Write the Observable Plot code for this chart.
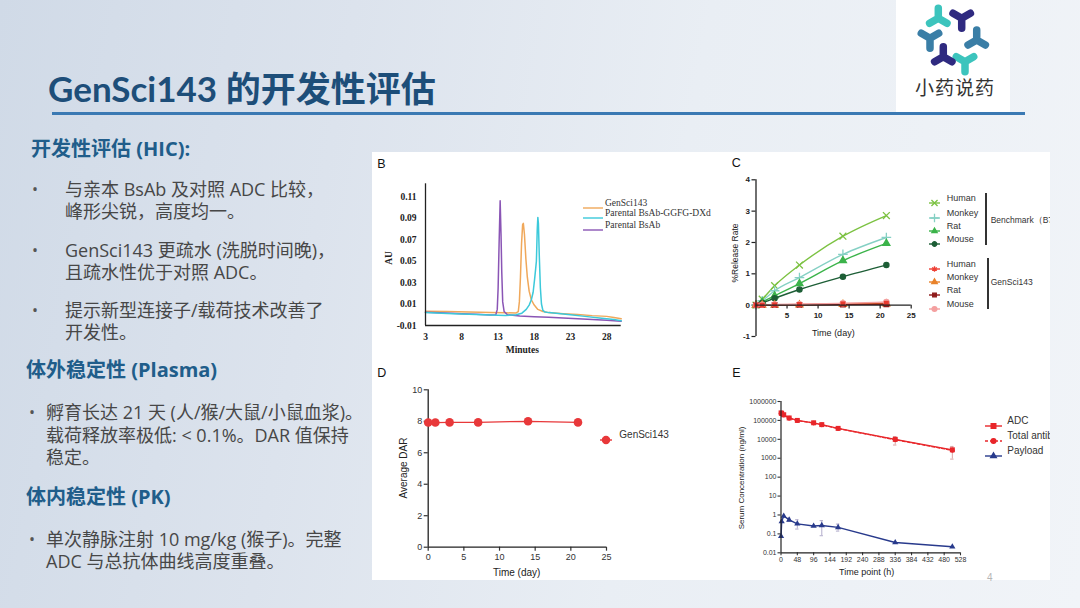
<!DOCTYPE html>
<html><head><meta charset="utf-8">
<script src="https://cdn.jsdelivr.net/npm/d3@7"></script>
<script src="https://cdn.jsdelivr.net/npm/@observablehq/plot@0.6"></script>
<style>
body{margin:0;}
#slide{position:relative;width:1080px;height:608px;overflow:hidden;
 background:linear-gradient(100deg,#d0dae7 0%,#dce3ed 30%,#e9eef4 60%,#f1f4f8 100%);
 font-family:"Open Sans","Noto Sans CJK SC",sans-serif;}
.abs{position:absolute;white-space:nowrap;}
.title{left:48px;top:68px;font-family:"Lato","Noto Sans CJK SC",sans-serif;font-weight:700;font-size:35px;line-height:40px;color:#1d4e79;}
.h{font-weight:700;font-size:20px;line-height:24px;color:#205d8a;font-family:"Open Sans","Noto Sans CJK SC",sans-serif;}
.t{font-size:18px;line-height:22px;color:#474747;}
.dot{font-size:16px;line-height:22px;color:#555;}
#panel{position:absolute;left:372px;top:152px;width:678px;height:428px;background:#fff;overflow:hidden;}
#panel svg.plot{position:absolute;}
.lab{position:absolute;font-family:"Liberation Sans",Arial,sans-serif;font-size:12.5px;line-height:13px;color:#111;}
.ax{position:absolute;white-space:nowrap;transform:translate(-50%,-50%);color:#222;}
.leg{position:absolute;white-space:nowrap;color:#333;}
</style></head>
<body><div id="slide">
 <div class="abs title">GenSci143 的开发性评估</div>
 <div class="abs" style="left:896px;top:0;width:114px;height:113px;background:#fff;">
  <svg width="114" height="80" style="position:absolute;left:0;top:0">
   <g fill="none" stroke-width="7.5" stroke-linecap="round">
    <path d="M42.3,18.3L42.3,8.3M42.3,18.3L33.6,23.3M42.3,18.3L51,23.3" stroke="#3cc4bd"/>
    <path d="M65.7,18.3L65.7,28.3M65.7,18.3L57,13.3M65.7,18.3L74.4,13.3" stroke="#2f2a80"/>
    <path d="M80.7,40L80.7,30M80.7,40L72,45M80.7,40L89.4,45" stroke="#3a7ea6"/>
    <path d="M69,61.7L69,71.7M69,61.7L60.3,56.7M69,61.7L77.7,56.7" stroke="#3cc4bd"/>
    <path d="M47.3,56.7L47.3,46.7M47.3,56.7L38.6,61.7M47.3,56.7L56,61.7" stroke="#2f2a80"/>
    <path d="M34,38.3L34,48.3M34,38.3L25.3,33.3M34,38.3L42.7,33.3" stroke="#3a7ea6"/>
   </g>
  </svg>
  <div class="abs" style="left:19px;top:75px;font-family:'Noto Sans CJK SC';font-size:19px;line-height:24px;color:#333;letter-spacing:1px;">小药说药</div>
 </div>
 <div class="abs" style="left:52px;top:112px;width:973px;height:3px;background:#3a79b3;"></div>

 <div class="abs h" style="left:31px;top:137px;">开发性评估 (HIC):</div>
 <div class="abs dot" style="left:32px;top:178px;">•</div>
 <div class="abs t" style="left:65px;top:178px;">与亲本 BsAb 及对照 ADC 比较，</div>
 <div class="abs t" style="left:65px;top:200px;">峰形尖锐，高度均一。</div>
 <div class="abs dot" style="left:32px;top:239px;">•</div>
 <div class="abs t" style="left:65px;top:239px;">GenSci143 更疏水 (洗脱时间晚)，</div>
 <div class="abs t" style="left:65px;top:261px;">且疏水性优于对照 ADC。</div>
 <div class="abs dot" style="left:32px;top:299px;">•</div>
 <div class="abs t" style="left:65px;top:299px;">提示新型连接子/载荷技术改善了</div>
 <div class="abs t" style="left:65px;top:321px;">开发性。</div>

 <div class="abs h" style="left:26px;top:358px;">体外稳定性 (Plasma)</div>
 <div class="abs dot" style="left:29px;top:401px;">•</div>
 <div class="abs t" style="left:46px;top:401px;">孵育长达 21 天 (人/猴/大鼠/小鼠血浆)。</div>
 <div class="abs t" style="left:46px;top:424px;">载荷释放率极低: &lt; 0.1%。DAR 值保持</div>
 <div class="abs t" style="left:46px;top:446px;">稳定。</div>

 <div class="abs h" style="left:26px;top:485px;">体内稳定性 (PK)</div>
 <div class="abs dot" style="left:29px;top:528px;">•</div>
 <div class="abs t" style="left:46px;top:528px;">单次静脉注射 10 mg/kg (猴子)。完整</div>
 <div class="abs t" style="left:46px;top:550px;">ADC 与总抗体曲线高度重叠。</div>

 <div id="panel"></div>
 <div class="abs" style="left:987px;top:572px;font-size:10px;color:#b5b5b5;font-family:'Liberation Sans';">4</div>
</div>
<script>
// ---------- Panel B: HIC chromatograms ----------
const hicTicksX = [3, 8, 13, 18, 23, 28];
const hicTicksY = [-0.01, 0.01, 0.03, 0.05, 0.07, 0.09, 0.11];
const hicGenSci143 = [[3,0.0033],[6,0.003],[9,0.0026],[12,0.0021],[14,0.0018],[15.5,0.0017],[15.8,0.003],[15.95,0.012],[16.1,0.035],[16.25,0.066],[16.4,0.084],[16.5,0.0852],[16.65,0.075],[16.85,0.052],[17.05,0.035],[17.3,0.022],[17.6,0.014],[18,0.009],[18.5,0.005],[19.2,0.003],[20,0.002],[22,0.001],[24,0.0002],[26,-0.0008],[28,-0.0015],[29,-0.0025],[30,-0.0038]];
const hicParentalDXd = [[3,0.0022],[6,0.0012],[9,0.0004],[12,-0.0003],[14,-0.0006],[15.5,0.0],[16.3,0.0015],[16.9,0.005],[17.3,0.009],[17.6,0.014],[17.85,0.021],[18.05,0.033],[18.2,0.043],[18.3,0.05],[18.42,0.08],[18.5,0.0907],[18.58,0.085],[18.7,0.055],[18.85,0.025],[19.0,0.01],[19.2,0.004],[19.5,0.0025],[20,0.002],[21,0.0014],[23,0.0],[25,-0.0015],[27,-0.003],[29,-0.0045],[30,-0.0056]];
const hicParentalBsAb = [[3,0.0024],[5,0.0018],[8,0.001],[10,0.0004],[12,-0.0002],[12.7,0.0],[12.9,0.005],[13.02,0.025],[13.15,0.065],[13.3,0.1063],[13.42,0.075],[13.52,0.04],[13.65,0.012],[13.85,0.003],[14.3,0.0],[16,-0.0012],[18,-0.0018],[20,-0.0024],[22,-0.003],[24,-0.0038],[26,-0.0045],[28,-0.0052],[30,-0.006]];
const hicNames = ["GenSci143", "Parental BsAb-GGFG-DXd", "Parental BsAb"];
const hicColors = ["#f0a85a", "#3cc9da", "#8a55b5"];

// ---------- Panel C: payload release ----------
const releaseDays = [0, 1, 3, 7, 14, 21];
const releaseTicksX = [5, 10, 15, 20, 25];
const releaseTicksY = [-1, 0, 1, 2, 3, 4];
const benchHuman  = [0, 0.19, 0.62, 1.28, 2.20, 2.86];
const benchMonkey = [0, 0.14, 0.46, 0.88, 1.62, 2.16];
const benchRat    = [0, 0.10, 0.30, 0.69, 1.42, 1.97];
const benchMouse  = [0, 0.07, 0.22, 0.50, 0.91, 1.28];
const gsHuman  = [0, 0.00, 0.01, 0.02, 0.04, 0.06];
const gsMonkey = [0, 0.00, 0.005, 0.01, 0.03, 0.04];
const gsRat    = [0, 0.00, 0.005, 0.01, 0.02, 0.03];
const gsMouse  = [0, 0.01, 0.02, 0.03, 0.06, 0.10];

// ---------- Panel D: DAR ----------
const darDays = [0, 1, 3, 7, 14, 21];
const darValues = [7.92, 7.92, 7.93, 7.93, 8.0, 7.93];
const darTicksX = [0, 5, 10, 15, 20, 25];
const darTicksY = [0, 2, 4, 6, 8, 10];

// ---------- Panel E: PK ----------
const pkHours = [0.25, 2, 8, 24, 48, 96, 120, 168, 336, 504];
const adcConc = [250000, 232000, 200000, 135000, 100000, 75000, 60000, 38000, 10000, 2800];
const totalAbConc = [240000, 222000, 190000, 130000, 98000, 72000, 58000, 37000, 9500, 2600];
const payloadConc = [0.075, 0.45, 0.88, 0.55, 0.34, 0.26, 0.28, 0.22, 0.035, 0.021];
const adcErrHours = [336, 504];
const adcErrLo = [5000, 900];
const adcErrHi = [14000, 4200];
const payloadErrHours = [24, 48, 120, 168];
const payloadErrLo = [0.45, 0.18, 0.08, 0.14];
const payloadErrHi = [0.68, 0.56, 0.50, 0.33];
const pkTicksX = [0, 48, 96, 144, 192, 240, 288, 336, 384, 432, 480, 528];
const pkTicksY = [0.01, 0.1, 1, 10, 100, 1000, 10000, 100000, 1000000];

const panel = document.getElementById("panel");
function put(el, left, top) { el.classList.add("plot"); el.style.left = left + "px"; el.style.top = top + "px"; panel.appendChild(el); }
function html(cls, text, left, top, style) {
  const d = document.createElement("div"); d.className = cls; d.textContent = text;
  d.style.left = left + "px"; d.style.top = top + "px"; if (style) d.style.cssText += style;
  panel.appendChild(d); return d;
}
const sans = '"Liberation Sans",Arial,sans-serif';
const serif = '"Liberation Serif","Times New Roman",serif';
const symMap = {times: d3.symbolTimes, plus: d3.symbolPlus, triangle: d3.symbolTriangle, circle: d3.symbolCircle, square: d3.symbolSquare, asterisk: d3.symbolAsterisk, star: d3.symbolStar};
function swatch(left, cy, w, color, sym, size, filled, dash) {
  const s = document.createElement("div");
  s.style.cssText = `position:absolute;left:${left}px;top:${cy-6}px;width:${w}px;height:12px;`;
  let p = "";
  if (sym) {
    const d = d3.symbol(symMap[sym], size)();
    p = `<path transform="translate(${w/2},6)" d="${d}" fill="${filled ? color : "none"}" stroke="${color}" stroke-width="1.3"/>`;
  }
  s.innerHTML = `<svg width="${w}" height="12"><line x1="0" x2="${w}" y1="6" y2="6" stroke="${color}" stroke-width="1.4" ${dash ? `stroke-dasharray="${dash}"` : ""}/>${p}</svg>`;
  panel.appendChild(s);
}

// ---- B ----
const hicSeries = [hicGenSci143, hicParentalBsAb, hicParentalDXd];
const hicSeriesColor = [hicColors[0], hicColors[2], hicColors[1]];
put(Plot.plot({
  width: 348, height: 208, marginLeft: 53, marginRight: 99.3, marginTop: 31.3, marginBottom: 35,
  x: {domain: [3, 30], axis: null}, y: {domain: [-0.01, 0.122], axis: null},
  style: {background: "transparent", fontFamily: serif, fontSize: "9.5px", fontWeight: "bold", color: "#222", overflow: "visible"},
  marks: [
    Plot.axisY({ticks: hicTicksY, tickSize: 0, tickPadding: 9, tickFormat: d => d.toFixed(2), label: null}),
    Plot.axisX({ticks: hicTicksX, tickSize: 0, tickPadding: 8, tickFormat: d => String(d), label: null}),
    ...hicSeries.map((s, i) => Plot.line(s, {x: d => d[0], y: d => d[1], stroke: hicSeriesColor[i], strokeWidth: 1.5})),
    Plot.ruleX([3], {stroke: "#222", strokeWidth: 1.3}),
    Plot.ruleY([-0.01], {stroke: "#222", strokeWidth: 1.3})
  ]
}), 0, 0);
html("lab", "B", 5.3, 6);
html("ax", "AU", 16.5, 106, `font-family:${serif};font-weight:bold;font-size:9.5px;transform:translate(-50%,-50%) rotate(-90deg);`);
html("ax", "Minutes", 150.3, 198, `font-family:${serif};font-weight:bold;font-size:9.5px;`);
const hicLegY = [50.7, 61.3, 73];
hicNames.forEach((n, i) => {
  swatch(211.3, hicLegY[i], 20, hicColors[i], null, 0, false, null);
  html("leg", n, 233, hicLegY[i] - 7, `font-family:${serif};font-size:9.5px;line-height:14px;`);
});

// ---- C ----
const releaseSeries = [
  {name: "Human", v: benchHuman, color: "#7cc242", sym: "times", fill: false, size: 26},
  {name: "Monkey", v: benchMonkey, color: "#85d0c4", sym: "plus", fill: false, size: 26},
  {name: "Rat", v: benchRat, color: "#3bb34a", sym: "triangle", fill: true, size: 12},
  {name: "Mouse", v: benchMouse, color: "#1d5e36", sym: "circle", fill: true, size: 16},
  {name: "Human", v: gsHuman, color: "#ee4035", sym: "asterisk", fill: false, size: 22},
  {name: "Monkey", v: gsMonkey, color: "#e8822a", sym: "triangle", fill: true, size: 13},
  {name: "Rat", v: gsRat, color: "#8e1b1b", sym: "square", fill: true, size: 13},
  {name: "Mouse", v: gsMouse, color: "#f4a0a0", sym: "circle", fill: true, size: 18}
];
const redSquare = {v: gsHuman, color: "#e8392e"};
put(Plot.plot({
  width: 330, height: 208, marginLeft: 35.5, marginRight: 139.3, marginTop: 27.3, marginBottom: 24,
  x: {domain: [0, 25], axis: null}, y: {domain: [-1, 4], axis: null},
  style: {background: "transparent", fontFamily: sans, fontSize: "8px", fontWeight: "bold", color: "#222", overflow: "visible"},
  marks: [
    Plot.axisY({ticks: releaseTicksY, tickSize: 4, tickPadding: 2, tickFormat: d => String(d), label: null, strokeWidth: 1.2}),
    Plot.ruleX(releaseTicksX, {x: d => d, y1: 0, y2: -0.12, stroke: "#222", strokeWidth: 1.2}),
    Plot.text(releaseTicksX, {x: d => d, y: 0, dy: 10, text: d => String(d)}),
    ...releaseSeries.flatMap(s => [
      Plot.line(releaseDays, {x: d => d, y: (d, i) => s.v[i], stroke: s.color, strokeWidth: 1.4, curve: "monotone-x"}),
      Plot.dot(releaseDays, {x: d => d, y: (d, i) => s.v[i], symbol: s.sym, r: s.sym === "times" || s.sym === "plus" ? 3.2 : 2.6,
        stroke: s.color, fill: s.fill ? s.color : "none", strokeWidth: 1.3})
    ]),
    Plot.dot(releaseDays, {x: d => d, y: (d, i) => redSquare.v[i], symbol: "square", r: 2.8, fill: redSquare.color}),
    Plot.ruleX([0], {stroke: "#222", strokeWidth: 1.3}),
    Plot.ruleY([0], {stroke: "#222", strokeWidth: 1.3})
  ]
}), 348, 0);
html("lab", "C", 359.7, 5.3);
html("ax", "%Release Rate", 363, 101.3, `font-family:${sans};font-size:8.5px;transform:translate(-50%,-50%) rotate(-90deg);`);
html("ax", "Time (day)", 461.3, 181.3, `font-family:${sans};font-size:9px;`);
const relLegY = [46.3, 61.3, 74, 87.3, 112, 125.3, 138, 152];
releaseSeries.forEach((s, i) => {
  swatch(557, relLegY[i], 11, s.color, s.sym, s.size, s.fill, null);
  html("leg", s.name, 574.7, relLegY[i] - 7, `font-family:${sans};font-size:9px;line-height:14px;`);
});
html("leg", "", 613, 40.7, "width:1.6px;height:52.3px;background:#333;");
html("leg", "", 615, 106.3, "width:1.6px;height:51px;background:#333;");
html("leg", "Benchmark（B7-H3 ADC）", 618.7, 61, `font-family:${sans};font-size:8.5px;line-height:14px;`);
html("leg", "GenSci143", 618.7, 122.7, `font-family:${sans};font-size:8.5px;line-height:14px;`);

// ---- D ----
put(Plot.plot({
  width: 348, height: 220, marginLeft: 55.7, marginRight: 114, marginTop: 29.3, marginBottom: 33.3,
  x: {domain: [0, 25], axis: null}, y: {domain: [0, 10], axis: null},
  style: {background: "transparent", fontFamily: sans, fontSize: "9px", color: "#333", overflow: "visible"},
  marks: [
    Plot.axisY({ticks: darTicksY, tickSize: 4, tickPadding: 2, tickFormat: d => String(d), label: null, strokeWidth: 1.2}),
    Plot.axisX({ticks: darTicksX, tickSize: 4, tickPadding: 2, tickFormat: d => String(d), label: null, strokeWidth: 1.2}),
    Plot.ruleX([0], {stroke: "#222", strokeWidth: 1.3}),
    Plot.ruleY([0], {stroke: "#222", strokeWidth: 1.3}),
    Plot.line(darDays, {x: d => d, y: (d, i) => darValues[i], stroke: "#e8383a", strokeWidth: 1.2}),
    Plot.dot(darDays, {x: d => d, y: (d, i) => darValues[i], r: 4.3, fill: "#e8383a"})
  ]
}), 0, 208);
html("lab", "D", 5.3, 215.3);
html("ax", "Average DAR", 30.7, 316.3, `font-family:${sans};font-size:10px;transform:translate(-50%,-50%) rotate(-90deg);`);
html("ax", "Time (day)", 144.7, 420.3, `font-family:${sans};font-size:10px;`);
swatch(227.5, 283, 12, "#e8383a", "circle", 40, true, null);
html("leg", "GenSci143", 247.3, 275, `font-family:${sans};font-size:10px;line-height:16px;`);

// ---- E ----
put(Plot.plot({
  width: 330, height: 220, marginLeft: 60.5, marginRight: 90, marginTop: 41, marginBottom: 27.7,
  x: {domain: [0, 528], axis: null}, y: {type: "log", domain: [0.01, 1000000], axis: null},
  style: {background: "transparent", fontFamily: sans, fontSize: "7px", color: "#333", overflow: "visible"},
  marks: [
    Plot.axisY({ticks: pkTicksY, tickSize: 3, tickPadding: 1.5, tickFormat: d => String(d), label: null, strokeWidth: 1.1}),
    Plot.axisX({ticks: pkTicksX, tickSize: 3, tickPadding: 1.5, tickFormat: d => String(d), label: null, strokeWidth: 1.1}),
    Plot.ruleX(adcErrHours, {x: d => d, y1: (d, i) => adcErrLo[i], y2: (d, i) => adcErrHi[i], stroke: "#d9a3a3", strokeWidth: 1}),
    Plot.ruleY(adcErrLo, {y: d => d, x1: (d, i) => adcErrHours[i] - 5, x2: (d, i) => adcErrHours[i] + 5, stroke: "#d9a3a3"}),
    Plot.ruleY(adcErrHi, {y: d => d, x1: (d, i) => adcErrHours[i] - 5, x2: (d, i) => adcErrHours[i] + 5, stroke: "#d9a3a3"}),
    Plot.ruleX(payloadErrHours, {x: d => d, y1: (d, i) => payloadErrLo[i], y2: (d, i) => payloadErrHi[i], stroke: "#b3adcc", strokeWidth: 1}),
    Plot.ruleY(payloadErrLo, {y: d => d, x1: (d, i) => payloadErrHours[i] - 5, x2: (d, i) => payloadErrHours[i] + 5, stroke: "#b3adcc"}),
    Plot.ruleY(payloadErrHi, {y: d => d, x1: (d, i) => payloadErrHours[i] - 5, x2: (d, i) => payloadErrHours[i] + 5, stroke: "#b3adcc"}),
    Plot.line(pkHours, {x: d => d, y: (d, i) => totalAbConc[i], stroke: "#e8262a", strokeWidth: 1.3, strokeDasharray: "3,2"}),
    Plot.line(pkHours, {x: d => d, y: (d, i) => adcConc[i], stroke: "#e8262a", strokeWidth: 1.3}),
    Plot.dot(pkHours, {x: d => d, y: (d, i) => totalAbConc[i], r: 2.4, fill: "#e8262a"}),
    Plot.dot(pkHours, {x: d => d, y: (d, i) => adcConc[i], symbol: "square", r: 2.8, fill: "#e8262a"}),
    Plot.line(pkHours, {x: d => d, y: (d, i) => payloadConc[i], stroke: "#283a8c", strokeWidth: 1.4}),
    Plot.dot(pkHours, {x: d => d, y: (d, i) => payloadConc[i], symbol: "triangle", r: 2.3, fill: "#283a8c"}),
    Plot.ruleX([0], {stroke: "#222", strokeWidth: 1.2}),
    Plot.ruleY([0.01], {stroke: "#222", strokeWidth: 1.2})
  ]
}), 348, 208);
html("lab", "E", 360.3, 215.3);
html("ax", "Serum Concentration (ng/ml)", 368.7, 326.3, `font-family:${sans};font-size:8px;transform:translate(-50%,-50%) rotate(-90deg);`);
html("ax", "Time point (h)", 494.7, 420.3, `font-family:${sans};font-size:9px;`);
const pkLeg = [
  {name: "ADC", color: "#e8262a", sym: "square", size: 22, dash: null, y: 269},
  {name: "Total antibody", color: "#e8262a", sym: "circle", size: 18, dash: "3,2", y: 283.7},
  {name: "Payload", color: "#283a8c", sym: "triangle", size: 14, dash: null, y: 298.7}
];
pkLeg.forEach(l => {
  swatch(613, l.y, 17, l.color, l.sym, l.size, true, l.dash);
  html("leg", l.name, 635.3, l.y - 8, `font-family:${sans};font-size:10px;line-height:16px;`);
});
</script>
</body></html>
